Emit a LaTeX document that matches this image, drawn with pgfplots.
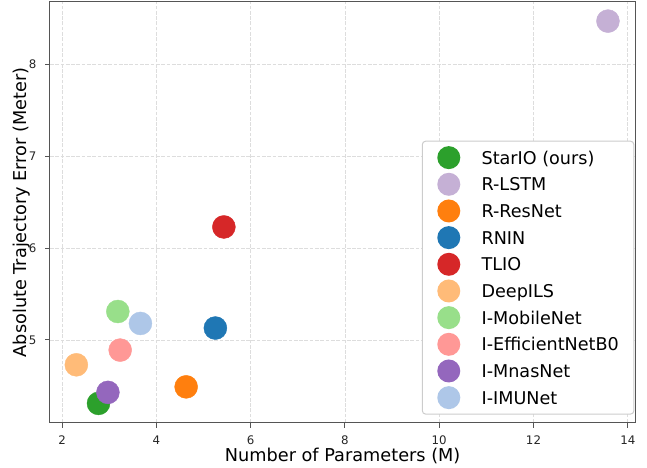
\documentclass[border=0pt]{standalone}
\usepackage{fontspec}
\setmainfont{DejaVu Sans}
\usepackage{pgfplots}
\pgfplotsset{compat=1.18}
\definecolor{cstar}{HTML}{2CA02C}
\definecolor{clstm}{HTML}{C5B0D5}
\definecolor{cresnet}{HTML}{FF7F0E}
\definecolor{crnin}{HTML}{1F77B4}
\definecolor{ctlio}{HTML}{D62728}
\definecolor{cdeep}{HTML}{FFBB78}
\definecolor{cmobile}{HTML}{98DF8A}
\definecolor{ceff}{HTML}{FF9896}
\definecolor{cmnas}{HTML}{9467BD}
\definecolor{cimu}{HTML}{AEC7E8}
\definecolor{frame}{HTML}{555555}
\definecolor{gridc}{HTML}{DDDDDD}
\definecolor{legedge}{HTML}{CCCCCC}
\begin{document}
\begin{tikzpicture}
\begin{axis}[
  scale only axis,
  width=585.3bp, height=420.7bp,
  xmin=1.741, xmax=14.16,
  ymin=4.10, ymax=8.678,
  xtick={2,4,6,8,10,12,14},
  ytick={5,6,7,8},
  minor tick num=0,
  grid=major,
  major grid style={color=gridc, line width=0.8bp, dash pattern=on 3.7bp off 1.6bp},
  axis line style={color=frame, line width=1bp},
  tick style={color=frame, line width=1bp},
  tick align=outside,
  major tick length=4.9bp,
  xtick pos=bottom, ytick pos=left,
  /pgf/number format/assume math mode=true,
  ticklabel style={font=\fontsize{11.8bp}{14bp}\selectfont, text=black!85},
  xticklabel style={anchor=base, inner sep=0pt, yshift=-16.6bp},
  yticklabel style={anchor=east, inner sep=0pt, xshift=-8.5bp},
  xlabel={Number of Parameters (M)},
  ylabel={Absolute Trajectory Error (Meter)},
  every axis x label/.style={at={(axis description cs:0.5,-0.09104)}, anchor=base, font=\fontsize{17.7bp}{20bp}\selectfont},
  every axis y label/.style={at={(axis description cs:-0.04066,0.5)}, rotate=90, anchor=base, font=\fontsize{17.7bp}{20bp}\selectfont},
  legend cell align=left,
  legend image code/.code={\fill[#1, draw=none] (0bp,0bp) circle (11.5bp);},
  legend style={
    at={(axis cs:14.13,4.193)}, anchor=south east,
    draw=legedge, line width=1bp, fill=white,
    rounded corners=3.5bp,
    inner xsep=15bp, inner ysep=5bp, outer sep=0pt,
    row sep=3.67bp, column sep=21.3bp,
    font=\fontsize{17.6bp}{20bp}\selectfont,
    nodes={inner sep=0pt, text height=12.8bp, text depth=0pt},
  },
]
\addplot[only marks, mark=*, mark size=11.5bp, color=cstar, mark options={draw=none}] coordinates {(2.77,4.31)};
\addlegendentry{StarIO (ours)}
\addplot[only marks, mark=*, mark size=11.5bp, color=clstm, mark options={draw=none}] coordinates {(13.58,8.47)};
\addlegendentry{R-LSTM}
\addplot[only marks, mark=*, mark size=11.5bp, color=cresnet, mark options={draw=none}] coordinates {(4.63,4.49)};
\addlegendentry{R-ResNet}
\addplot[only marks, mark=*, mark size=11.5bp, color=crnin, mark options={draw=none}] coordinates {(5.25,5.13)};
\addlegendentry{RNIN}
\addplot[only marks, mark=*, mark size=11.5bp, color=ctlio, mark options={draw=none}] coordinates {(5.43,6.23)};
\addlegendentry{TLIO}
\addplot[only marks, mark=*, mark size=11.5bp, color=cdeep, mark options={draw=none}] coordinates {(2.30,4.73)};
\addlegendentry{DeepILS}
\addplot[only marks, mark=*, mark size=11.5bp, color=cmobile, mark options={draw=none}] coordinates {(3.18,5.31)};
\addlegendentry{I-MobileNet}
\addplot[only marks, mark=*, mark size=11.5bp, color=ceff, mark options={draw=none}] coordinates {(3.23,4.89)};
\addlegendentry{I-EfficientNetB0}
\addplot[only marks, mark=*, mark size=11.5bp, color=cmnas, mark options={draw=none}] coordinates {(2.97,4.43)};
\addlegendentry{I-MnasNet}
\addplot[only marks, mark=*, mark size=11.5bp, color=cimu, mark options={draw=none}] coordinates {(3.66,5.18)};
\addlegendentry{I-IMUNet}
\end{axis}
\pgfresetboundingbox
\path[use as bounding box] ([shift={(-50bp,-45.3bp)}]current axis.south west) rectangle ([shift={(11.7bp,2bp)}]current axis.north east);
\end{tikzpicture}
\end{document}
